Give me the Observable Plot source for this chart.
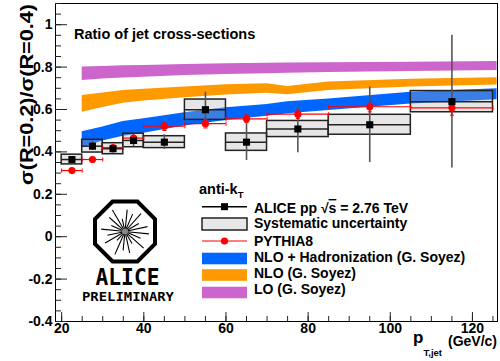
<!DOCTYPE html>
<html><head><meta charset="utf-8">
<script src="https://cdn.jsdelivr.net/npm/d3@7"></script>
<script src="https://cdn.jsdelivr.net/npm/@observablehq/plot@0.6"></script>
<style>body{margin:0;background:#fff;} #chart svg{display:block}</style>
</head><body><div id="chart"></div>
<script>
// ---- data ----
const binLo = [20, 25, 30, 35, 40, 50, 60, 70, 85, 105];
const binHi = [25, 30, 35, 40, 50, 60, 70, 85, 105, 125];
const aliceY    = [0.364, 0.427, 0.415, 0.454, 0.446, 0.599, 0.446, 0.508, 0.528, 0.637];
const aliceStat = [0.010, 0.020, 0.020, 0.030, 0.035, 0.082, 0.087, 0.112, 0.178, 0.313];
const aliceSys  = [0.023, 0.030, 0.026, 0.032, 0.028, 0.048, 0.041, 0.038, 0.047, 0.050];
const pythiaY   = [0.312, 0.364, 0.420, 0.465, 0.521, 0.533, 0.556, 0.578, 0.613, 0.608];
const pythiaErr = [0.008, 0.010, 0.010, 0.012, 0.020, 0.020, 0.018, 0.020, 0.024, 0.035];

const bandX    = [25, 30, 35, 40, 50, 60, 70, 75, 85, 105, 126];
const nloHadLo = [0.418, 0.452, 0.474, 0.488, 0.522, 0.548, 0.568, 0.580, 0.595, 0.626, 0.646];
const nloHadHi = [0.495, 0.518, 0.543, 0.556, 0.585, 0.608, 0.624, 0.636, 0.650, 0.681, 0.698];
const nloLo    = [0.587, 0.610, 0.630, 0.640, 0.655, 0.668, 0.677, 0.669, 0.690, 0.706, 0.716];
const nloHi    = [0.666, 0.678, 0.690, 0.696, 0.706, 0.717, 0.722, 0.708, 0.730, 0.743, 0.750];
const loLo     = [0.737, 0.744, 0.749, 0.752, 0.760, 0.765, 0.769, 0.771, 0.774, 0.779, 0.784];
const loHi     = [0.800, 0.803, 0.806, 0.808, 0.812, 0.816, 0.818, 0.819, 0.821, 0.823, 0.826];

const xMajor = [20, 40, 60, 80, 100, 120];
const xMinor = d3.range(20, 126, 5);
const yMajor = [-0.4, -0.2, 0, 0.2, 0.4, 0.6, 0.8, 1];
const yMinor = d3.range(-0.4, 1.1001, 0.05).map(v => +v.toFixed(2));

const legendLabels = ["Systematic uncertainty", "PYTHIA8", "NLO + Hadronization (G. Soyez)", "NLO (G. Soyez)", "LO (G. Soyez)"];
const colors = {nloHad: "#0066ff", nlo: "#ff9900", lo: "#cc66cc", pythia: "#ff0000"};

// ---- build ----
const FONT = "'Liberation Sans', Arial, Helvetica, sans-serif";
const alice = binLo.map((lo, i) => ({lo, hi: binHi[i], x: (lo + binHi[i]) / 2, y: aliceY[i], stat: aliceStat[i], sys: aliceSys[i]}));
const pythia = binLo.map((lo, i) => ({lo, hi: binHi[i], x: (lo + binHi[i]) / 2, y: pythiaY[i], err: pythiaErr[i]}));
const band = (lo, hi) => bandX.map((x, i) => ({x, lo: lo[i], hi: hi[i]}));

const vbarSym = {draw(ctx, size) { const h = Math.sqrt(size) / 2; ctx.moveTo(0, -h); ctx.lineTo(0, h); }};
const hbarSym = {draw(ctx, size) { const h = Math.sqrt(size) / 2; ctx.moveTo(-h, 0); ctx.lineTo(h, 0); }};
const fmt = d => String(+d.toFixed(1));

const plot = Plot.plot({
  width: 500, height: 361,
  marginTop: 3, marginRight: 3, marginBottom: 40, marginLeft: 55,
  style: {fontFamily: FONT, fontSize: "14px", background: "white", color: "black"},
  x: {domain: [18.5, 126.1], label: null},
  y: {domain: [-0.4, 1.1], label: null},
  marks: [
    Plot.areaY(band(loLo, loHi), {x: "x", y1: "lo", y2: "hi", fill: colors.lo}),
    Plot.areaY(band(nloLo, nloHi), {x: "x", y1: "lo", y2: "hi", fill: colors.nlo}),
    Plot.areaY(band(nloHadLo, nloHadHi), {x: "x", y1: "lo", y2: "hi", fill: colors.nloHad}),
    Plot.rect(alice, {x1: "lo", x2: "hi", y1: d => d.y - d.sys, y2: d => d.y + d.sys, fill: "#b4b4b4", fillOpacity: 0.33, stroke: "#222", strokeWidth: 1.5}),
    Plot.ruleX(alice, {x: "x", y1: d => d.y - d.stat, y2: d => d.y + d.stat, stroke: "#555", strokeWidth: 1.6}),
    Plot.ruleY(alice, {x1: "lo", x2: "hi", y: "y", stroke: "#222", strokeWidth: 1.5}),
    Plot.ruleY(pythia, {x1: "lo", x2: "hi", y: "y", stroke: colors.pythia, strokeWidth: 1.2}),
    Plot.ruleX(pythia, {x: "x", y1: d => d.y - d.err, y2: d => d.y + d.err, stroke: colors.pythia, strokeWidth: 1.2}),
    Plot.dot(pythia, {x: "lo", y: "y", symbol: vbarSym, r: 2.3, stroke: colors.pythia, strokeWidth: 1}),
    Plot.dot(pythia, {x: "hi", y: "y", symbol: vbarSym, r: 2.3, stroke: colors.pythia, strokeWidth: 1}),
    Plot.dot(pythia, {x: "x", y: d => d.y - d.err, symbol: hbarSym, r: 2.3, stroke: colors.pythia, strokeWidth: 1}),
    Plot.dot(pythia, {x: "x", y: d => d.y + d.err, symbol: hbarSym, r: 2.3, stroke: colors.pythia, strokeWidth: 1}),
    Plot.dot(pythia, {x: "x", y: "y", r: 3.6, fill: colors.pythia}),
    Plot.dot(alice, {x: "x", y: "y", symbol: "square", r: 4, fill: "black"}),
    Plot.frame({stroke: "black", strokeWidth: 1}),
    Plot.axisX(xMinor, {tickSize: -5, tickFormat: () => "", label: null, stroke: "#222"}),
    Plot.axisX(xMajor, {tickSize: -9, tickFormat: () => "", label: null, stroke: "#222"}),
    Plot.axisX(xMajor, {tickSize: 0, tickPadding: 2, tickFormat: fmt, fontSize: 14, fontWeight: "bold", label: null}),
    Plot.axisY(yMinor, {tickSize: -6, tickFormat: () => "", label: null, stroke: "#222"}),
    Plot.axisY(yMajor, {tickSize: -12, tickFormat: () => "", label: null, stroke: "#222"}),
    Plot.axisY(yMajor, {tickSize: 0, tickPadding: 3, tickFormat: fmt, fontSize: 14, fontWeight: "bold", label: null})
  ]
});
document.getElementById("chart").appendChild(plot);

// ---- annotations ----
const svg = d3.select(plot);
const g = svg.append("g").attr("font-family", FONT).attr("font-weight", "bold").attr("fill", "black").attr("text-anchor", "start");

// title
g.append("text").attr("x", 74).attr("y", 38.5).attr("font-size", 14.5).text("Ratio of jet cross-sections");

// y axis title
g.append("text").attr("transform", "translate(33,4) rotate(-90)").attr("text-anchor", "end")
  .attr("font-size", 18.5).attr("textLength", 181).attr("lengthAdjust", "spacingAndGlyphs")
  .text("σ(R=0.2)/σ(R=0.4)");

// x axis title
g.append("text").attr("x", 413).attr("y", 343).attr("font-size", 17).text("p");
g.append("text").attr("x", 423.5).attr("y", 356).attr("font-size", 9.5).text("T,jet");
g.append("text").attr("x", 497).attr("y", 346).attr("text-anchor", "end").attr("font-size", 14).text("(GeV/c)");

// legend
const lt = g.append("text").attr("x", 199).attr("y", 194).attr("font-size", 14.5);
lt.append("tspan").text("anti-k");
lt.append("tspan").attr("font-size", 9.5).attr("dy", 4).text("T");

const lx0 = 202, lx1 = 247, lxm = (lx0 + lx1) / 2, tx = 254;
const rowY = [206.7, 224, 241, 258.5, 275, 292.5];
const rowBase = [213, 227.5, 246, 261.5, 278, 293.5];
// row 1: ALICE
g.append("line").attr("x1", lx0).attr("x2", lx1).attr("y1", rowY[0]).attr("y2", rowY[0]).attr("stroke", "black").attr("stroke-width", 1.5);
g.append("rect").attr("x", lxm - 3.5).attr("y", rowY[0] - 3.5).attr("width", 7).attr("height", 7).attr("fill", "black");
const t1 = g.append("text").attr("x", tx).attr("y", rowBase[0]).attr("font-size", 14);
t1.append("tspan").text("ALICE pp √");
t1.append("tspan").attr("text-decoration", "overline").text("s");
t1.append("tspan").text(" = 2.76 TeV");
// row 2: systematic box
g.append("rect").attr("x", lx0).attr("y", 218).attr("width", lx1 - lx0).attr("height", 12).attr("fill", "#e8e8e8").attr("stroke", "#222").attr("stroke-width", 1.5);
// row 3: pythia
g.append("line").attr("x1", lx0).attr("x2", lx1).attr("y1", rowY[2]).attr("y2", rowY[2]).attr("stroke", colors.pythia).attr("stroke-width", 1.2);
g.append("circle").attr("cx", lxm).attr("cy", rowY[2]).attr("r", 3.6).attr("fill", colors.pythia);
// rows 4-6: bands
[[colors.nloHad, 252.7], [colors.nlo, 269.2], [colors.lo, 286.7]].forEach(([c, y]) => {
  g.append("rect").attr("x", lx0).attr("y", y).attr("width", lx1 - lx0).attr("height", 11.6).attr("fill", c);
});
legendLabels.forEach((s, i) => {
  g.append("text").attr("x", tx).attr("y", rowBase[i + 1]).attr("font-size", 14).text(s);
});

// ALICE logo
const cx = 125, cy = 231.5, R = 30 / Math.cos(Math.PI / 8);
const oct = d3.range(8).map(k => { const a = Math.PI / 8 + k * Math.PI / 4; return [cx + R * Math.cos(a), cy + R * Math.sin(a)]; });
g.append("polygon").attr("points", oct.map(p => p.join(",")).join(" ")).attr("fill", "none").attr("stroke", "black").attr("stroke-width", 4);
const spokeLen = [24, 17, 25, 14, 22, 19, 25, 12, 23, 18, 24, 15, 21, 25, 13, 22, 19, 24, 16, 23];
spokeLen.forEach((L, k) => {
  const a = k * 2 * Math.PI / spokeLen.length + 0.1;
  g.append("line").attr("x1", cx + 2 * Math.cos(a)).attr("y1", cy + 2 * Math.sin(a))
    .attr("x2", cx + L * Math.cos(a)).attr("y2", cy + L * Math.sin(a))
    .attr("stroke", "black").attr("stroke-width", 1.1);
});
g.append("circle").attr("cx", cx).attr("cy", cy).attr("r", 3).attr("fill", "#888");
g.append("text").attr("x", 95.5).attr("y", 285).attr("font-family", "'DejaVu Sans Mono', monospace")
  .attr("font-weight", "bold").attr("font-size", 23).attr("textLength", 64).attr("lengthAdjust", "spacingAndGlyphs").text("ALICE");
g.append("text").attr("x", 82).attr("y", 301).attr("font-family", "'DejaVu Sans Mono', monospace")
  .attr("font-weight", "bold").attr("font-size", 12).attr("textLength", 92).attr("lengthAdjust", "spacingAndGlyphs").text("PRELIMINARY");
</script>
</body></html>
